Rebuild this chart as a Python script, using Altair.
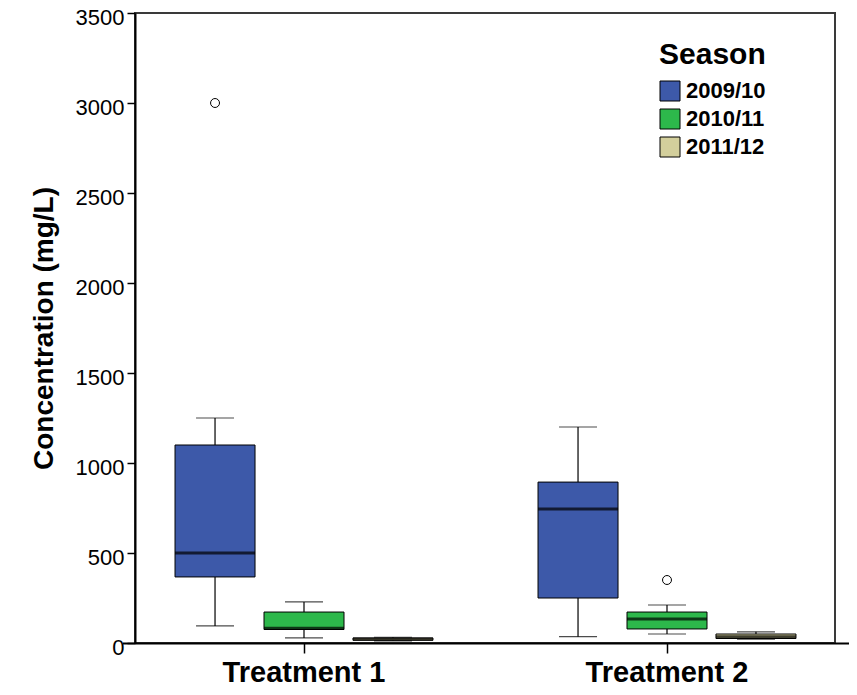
import altair as alt
import pandas as pd

# ---- data ----
groups = ["Treatment 1", "Treatment 1", "Treatment 1", "Treatment 2", "Treatment 2", "Treatment 2"]
seasons = ["2009/10", "2010/11", "2011/12", "2009/10", "2010/11", "2011/12"]
whisker_low = [95, 28, 12, 35, 50, 22]
q1 = [367, 75, 15, 250, 78, 25]
median = [500, 82, 22, 744, 133, 35]
q3 = [1100, 172, 28, 894, 172, 50]
whisker_high = [1250, 228, 32, 1200, 211, 62]

out_groups = ["Treatment 1", "Treatment 2"]
out_seasons = ["2009/10", "2010/11"]
out_values = [3000, 350]

season_order = ["2009/10", "2010/11", "2011/12"]
season_colors = ["#3D59A9", "#2DB84B", "#D3CF9C"]
y_ticks = [0, 500, 1000, 1500, 2000, 2500, 3000, 3500]

box = pd.DataFrame({
    "group": groups, "season": seasons, "lo": whisker_low, "q1": q1,
    "med": median, "q3": q3, "hi": whisker_high,
})
outl = pd.DataFrame({"group": out_groups, "season": out_seasons, "v": out_values})

FONT = "Liberation Sans"

x_enc = alt.X("group:N", scale=alt.Scale(domain=["Treatment 1", "Treatment 2"], range=[-12.5, 713.5],
                                         paddingInner=0, paddingOuter=0),
              axis=alt.Axis(title=None, labelAngle=0, labelFontSize=29, labelFontWeight="bold",
                            labelColor="black", labelFont=FONT, domainColor="black", domainWidth=2,
                            tickColor="black", tickSize=10, tickWidth=1.5, labelPadding=5))
xo_enc = alt.XOffset("season:N", scale=alt.Scale(domain=season_order, paddingInner=0, paddingOuter=0.54))
y_scale = alt.Scale(domain=[0, 3500], nice=False)
y_axis = alt.Axis(title="Concentration (mg/L)", values=y_ticks, format="d", grid=False, labelFontSize=22,
                  labelFont=FONT, titleFont=FONT, labelOffset=4,
                  labelColor="black", titleFontSize=28, titleFontWeight="bold", titleColor="black",
                  domainColor="black", domainWidth=2, tickColor="black", tickSize=8, tickWidth=1.5,
                  labelPadding=3, titlePadding=17)

base = alt.Chart(box)

whisk = base.mark_rule(color="black", strokeWidth=1.2).encode(
    x=x_enc, xOffset=xo_enc,
    y=alt.Y("lo:Q", scale=y_scale, axis=y_axis), y2="hi:Q")

bars = base.mark_bar(size=80, stroke="black", strokeWidth=1).encode(
    x=x_enc, xOffset=xo_enc,
    y=alt.Y("q1:Q", scale=y_scale), y2="q3:Q",
    fill=alt.Fill("season:N", scale=alt.Scale(domain=season_order, range=season_colors),
                  legend=alt.Legend(title="Season", orient="none", legendX=524, legendY=27,
                                    titleFont=FONT, labelFont=FONT,
                                    titleFontSize=30, titleFontWeight="bold", titleColor="black",
                                    titlePadding=10, labelFontSize=22, labelFontWeight="bold",
                                    labelColor="black", symbolType="square", symbolSize=400,
                                    symbolStrokeColor="black", symbolStrokeWidth=1, symbolOpacity=1,
                                    labelOffset=5, rowPadding=4)))

med = base.mark_tick(size=80, thickness=3, color="black").encode(
    x=x_enc, xOffset=xo_enc, y=alt.Y("med:Q", scale=y_scale))
cap_lo = base.mark_tick(size=38, thickness=1.2, color="black").encode(
    x=x_enc, xOffset=xo_enc, y=alt.Y("lo:Q", scale=y_scale))
cap_hi = base.mark_tick(size=38, thickness=1.2, color="black").encode(
    x=x_enc, xOffset=xo_enc, y=alt.Y("hi:Q", scale=y_scale))

pts = alt.Chart(outl).mark_point(shape="circle", size=80, filled=False, fill="white",
                                 stroke="black", strokeWidth=1, opacity=1).encode(
    x=x_enc, xOffset=xo_enc, y=alt.Y("v:Q", scale=y_scale))

chart = alt.layer(whisk, bars, med, cap_lo, cap_hi, pts).properties(
    width=700, height=630,
    autosize=alt.AutoSizeParams(type="none"),
    padding={"left": 127, "top": 5, "right": 14, "bottom": 44},
    background="white",
).configure(font=FONT).configure_view(stroke="#3a3a3a", strokeWidth=2)

chart.save("out.html", embed_options={"renderer": "svg", "actions": False})
